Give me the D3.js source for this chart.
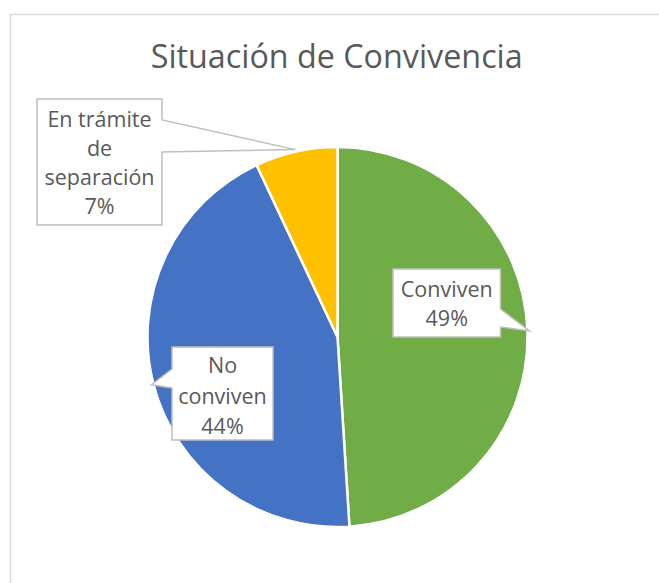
<!DOCTYPE html>
<html>
<head>
<meta charset="utf-8">
<script src="https://cdn.jsdelivr.net/npm/d3@7"></script>
<style>
  html, body { margin: 0; padding: 0; background: #fff; }
  svg { display: block; }
  text { font-family: "Open Sans", "Noto Sans", sans-serif; fill: #595959; }
</style>
</head>
<body>
<div id="chart"></div>
<script>
// ---- data ----
const title = "Situación de Convivencia";
const categories = ["Conviven", "No conviven", "En trámite de separación"];
const values = [49, 44, 7];
const labelLines = [["Conviven", "49%"], ["No", "conviven", "44%"], ["En trámite", "de", "separación", "7%"]];
const colors = ["#70AD47", "#4472C4", "#FFC000"];

// ---- layout ----
const W = 659, H = 583;
const cx = 337.5, cy = 337, R = 190;
// callout boxes: [x, y, w, h], side of pointer base, base start/end along side
const boxes = [
  { x: 393, y: 269, w: 107.5, h: 68, side: "right", b0: 309, b1: 327, firstBase: 297, lh: 29 },
  { x: 172, y: 347, w: 101, h: 93, side: "left", b0: 369, b1: 388, firstBase: 373, lh: 30.5 },
  { x: 37, y: 99, w: 125, h: 126, side: "right", b0: 120, b1: 152, firstBase: 127, lh: 29 }
];

const svg = d3.select("#chart").append("svg").attr("width", W).attr("height", H);

// chart border
svg.append("rect").attr("x", 10.5).attr("y", 14.5).attr("width", 700).attr("height", 700)
  .attr("fill", "#fff").attr("stroke", "#d9d9d9").attr("stroke-width", 1.5);

// title
svg.append("text").attr("x", 336.7).attr("y", 68).attr("text-anchor", "middle")
  .attr("font-size", 32).attr("textLength", 372).attr("lengthAdjust", "spacingAndGlyphs")
  .text(title);

const pie = d3.pie().sort(null).value(d => d);
const arcs = pie(values);
const arc = d3.arc().innerRadius(0).outerRadius(R);

const g = svg.append("g").attr("transform", `translate(${cx},${cy})`);
g.selectAll("path").data(arcs).join("path")
  .attr("d", arc)
  .attr("fill", (d, i) => colors[i])
  .attr("stroke", "#fff").attr("stroke-width", 2.5).attr("stroke-linejoin", "round");

// callouts
arcs.forEach((a, i) => {
  const mid = (a.startAngle + a.endAngle) / 2;
  const tx = cx + (R + 2) * Math.sin(mid);
  const ty = cy - (R + 2) * Math.cos(mid);
  const b = boxes[i];
  const x0 = b.x, x1 = b.x + b.w, y0 = b.y, y1 = b.y + b.h;
  let p;
  if (b.side === "right") {
    p = `M${x0},${y0}H${x1}V${b.b0}L${tx},${ty}L${x1},${b.b1}V${y1}H${x0}Z`;
  } else {
    p = `M${x0},${y0}H${x1}V${y1}H${x0}V${b.b1}L${tx},${ty}L${x0},${b.b0}Z`;
  }
  svg.append("path").attr("d", p).attr("fill", "#fff")
    .attr("stroke", "#bfbfbf").attr("stroke-width", 1.5).attr("stroke-linejoin", "miter");
  const t = svg.append("text").attr("text-anchor", "middle").attr("font-size", 21.5);
  labelLines[i].forEach((ln, j) => {
    t.append("tspan").attr("x", b.x + b.w / 2).attr("y", b.firstBase + j * b.lh).text(ln);
  });
});
</script>
</body>
</html>
